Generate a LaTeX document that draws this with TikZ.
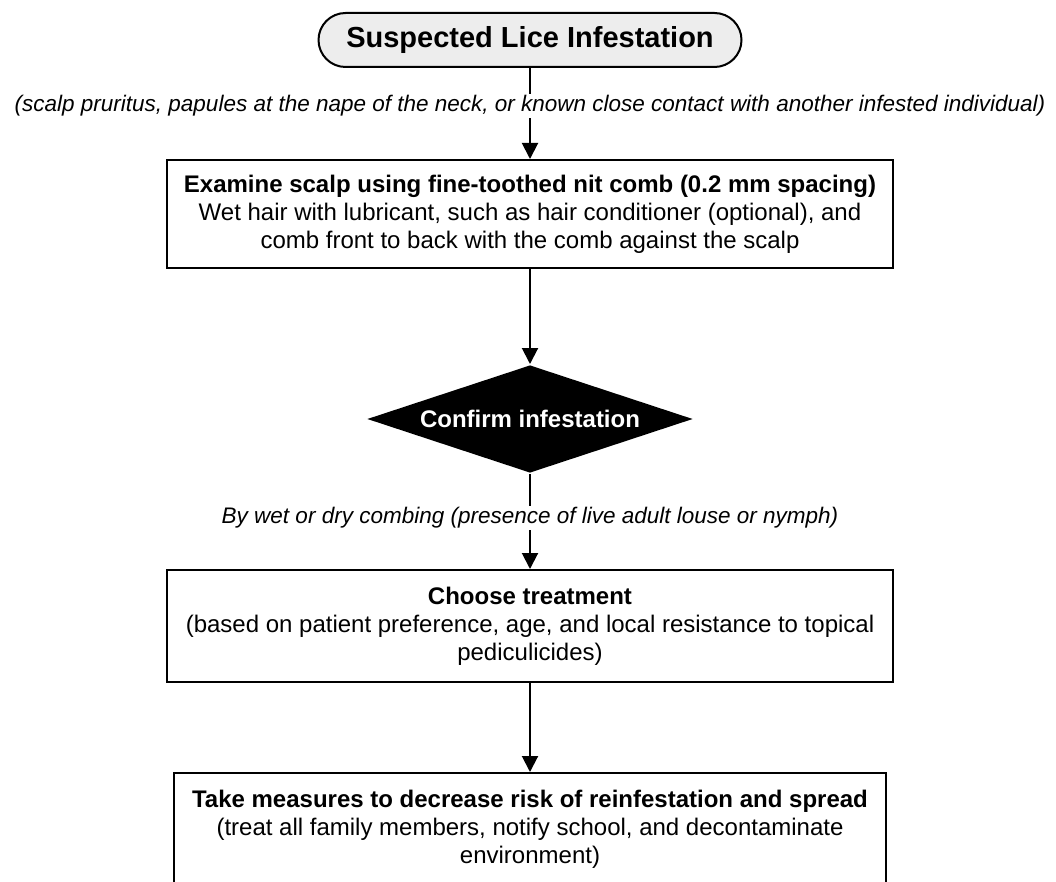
\documentclass[tikz,border=0pt]{standalone}
\usepackage{fontspec}
\setmainfont{Liberation Sans}
\usetikzlibrary{arrows.meta,shapes.geometric}
\definecolor{startfill}{HTML}{EDEDED}
\begin{document}
\begin{tikzpicture}[x=1pt,y=-1pt,
  line width=2pt,
  box/.style={draw, line width=2pt, align=center, minimum width=726pt, inner sep=0pt, font=\fontsize{24}{28}\selectfont},
  lab/.style={font=\fontsize{22.5}{26}\selectfont\itshape, inner sep=1pt},
  arr/.style={-{Triangle[width=16pt,length=16pt]}, line width=2pt}]
\useasboundingbox (0,0) rectangle (1056,882);

\node[draw, fill=startfill, rounded corners=27pt, minimum width=423pt, minimum height=54pt, inner sep=0pt,
      font=\fontsize{29}{34}\selectfont\bfseries] (start) at (530,40) {Suspected Lice Infestation};

\node[lab] (l1) at (530,106) {(scalp pruritus, papules at the nape of the neck, or known close contact with another infested individual)};

\node[box, minimum height=108pt] (b2) at (530,214)
  {\textbf{Examine scalp using fine-toothed nit comb (0.2 mm spacing)}\\
   Wet hair with lubricant, such as hair conditioner (optional), and\\
   comb front to back with the comb against the scalp};

\node[diamond, fill=black, aspect=3, minimum width=326pt, minimum height=108pt, inner sep=0pt,
      text=white, font=\fontsize{24}{28}\selectfont\bfseries] (d) at (530,419) {Confirm infestation};

\node[lab] (l2) at (530,518) {By wet or dry combing (presence of live adult louse or nymph)};

\node[box, minimum height=112pt] (b3) at (530,626)
  {\textbf{Choose treatment}\\
   (based on patient preference, age, and local resistance to topical\\
   pediculicides)};

\node[box, minimum height=112pt, minimum width=712pt] (b4) at (530,829)
  {\textbf{Take measures to decrease risk of reinfestation and spread}\\
   (treat all family members, notify school, and decontaminate\\
   environment)};

\draw (start) -- (l1);
\draw[arr] (l1) -- (b2);
\draw[arr] (b2) -- (d);
\draw (d) -- (l2);
\draw[arr] (l2) -- (b3);
\draw[arr] (b3) -- (b4);
\end{tikzpicture}
\end{document}
